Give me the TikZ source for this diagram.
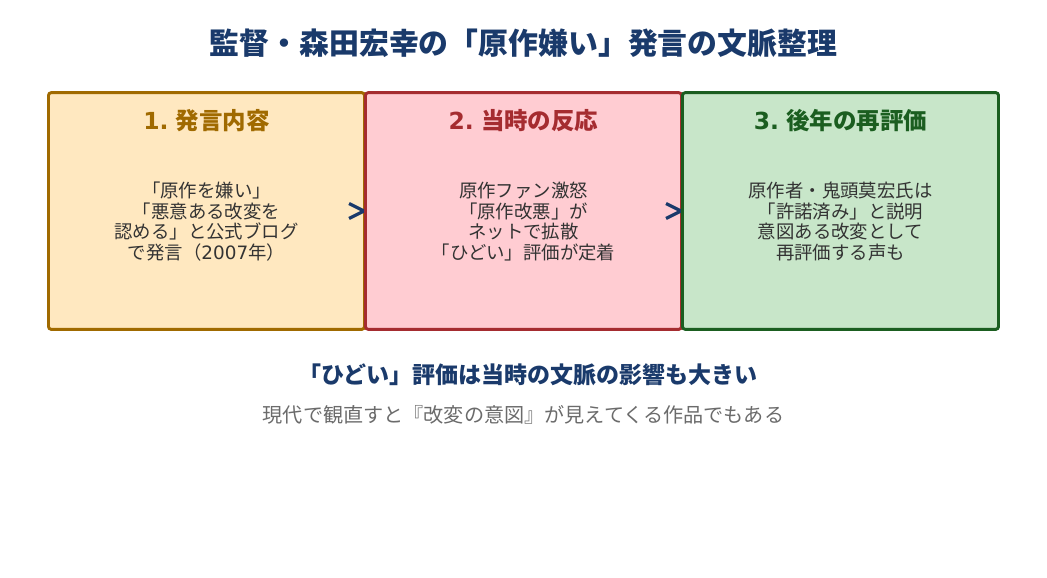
\documentclass[tikz,border=0pt]{standalone}
\usepackage{fontspec}
\usepackage{xcolor}
\setmainfont{DejaVu Sans}
\newfontfamily\cjk{Noto Sans CJK JP}
\newfontfamily\lat{DejaVu Sans}
\definecolor{navy}{HTML}{1A3A6B}
\definecolor{ambr}{HTML}{A06A00}
\definecolor{ambrbg}{HTML}{FFE8C0}
\definecolor{rojo}{HTML}{A52C30}
\definecolor{rojobg}{HTML}{FFCCD2}
\definecolor{verde}{HTML}{1B5E20}
\definecolor{verdebg}{HTML}{C8E6C9}
\tikzset{
  panel/.style={draw, rounded corners=2pt, line width=2.2pt, minimum width=237pt, minimum height=177.5pt, inner sep=0pt},
  head/.style={font=\cjk\bfseries\fontsize{17.6}{20}\selectfont},
  body/.style={font=\cjk\fontsize{13.8}{15.5}\selectfont, align=center, text=black!80},
  link/.style={draw=navy, line width=2.5pt}
}
\begin{document}
\begin{tikzpicture}[x=0.75pt, y=-0.75pt]
\useasboundingbox (0,0) rectangle (1047,578);
\node[font=\cjk\bfseries\fontsize{22.4}{26}\selectfont, text=navy] (title) at (523.5,43) {監督・森田宏幸の「原作嫌い」発言の文脈整理};
\coordinate (a1) at (349,203.5);
\coordinate (a2) at (364,211);
\coordinate (a3) at (349,218.5);
\coordinate (c1) at (666,203.5);
\coordinate (c2) at (681,211);
\coordinate (c3) at (666,218.5);
\node[panel, draw=ambr, fill=ambrbg] (p1) at (206.5,211) {};
\draw[link] (a1) -- (a2) -- (a3);
\node[panel, draw=rojo, fill=rojobg] (p2) at (523.5,211) {};
\draw[link] (c1) -- (c2) -- (c3);
\node[panel, draw=verde, fill=verdebg] (p3) at (840.5,211) {};
\node[head, text=ambr] (h1) at (206.5,121) {{\lat 1.} 発言内容};
\node[head, text=rojo] (h2) at (523.5,121) {{\lat 2.} 当時の反応};
\node[head, text=verde] (h3) at (840.5,121) {{\lat 3.} 後年の再評価};
\node[body] (b1) at (206.5,221.5) {「原作を嫌い」\\「悪意ある改変を\\認める」と公式ブログ\\で発言（{\lat 2007}年）};
\node[body] (b2) at (523.5,221.5) {原作ファン激怒\\「原作改悪」が\\ネットで拡散\\「ひどい」評価が定着};
\node[body] (b3) at (840.5,221.5) {原作者・鬼頭莫宏氏は\\「許諾済み」と説明\\意図ある改変として\\再評価する声も};
\node[font=\cjk\bfseries\fontsize{17.25}{20}\selectfont, text=navy] (msg) at (528,375) {「ひどい」評価は当時の文脈の影響も大きい};
\node[font=\cjk\fontsize{15.1}{18}\selectfont, text=black!58] (sub) at (523.5,415) {現代で観直すと『改変の意図』が見えてくる作品でもある};
\end{tikzpicture}
\end{document}
